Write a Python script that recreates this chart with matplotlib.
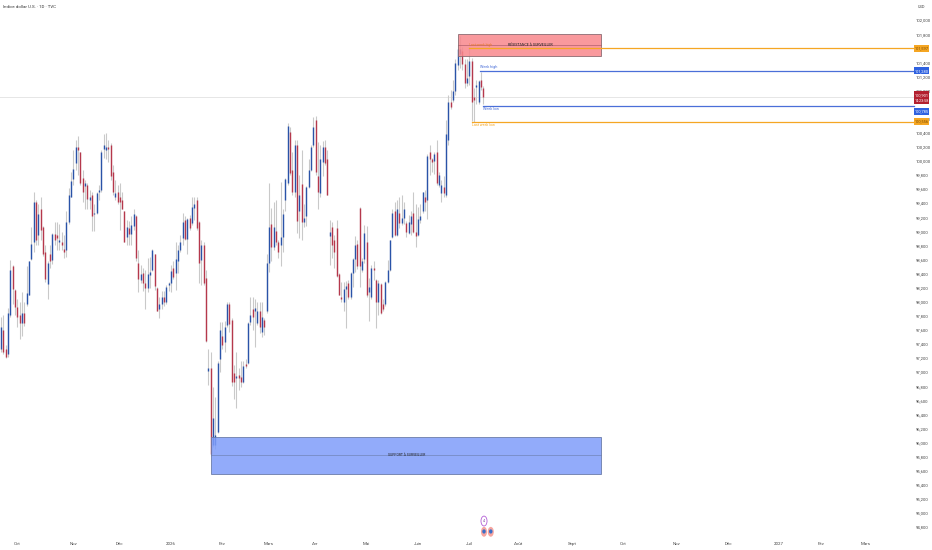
import matplotlib
matplotlib.use('Agg')
import matplotlib.pyplot as plt
from matplotlib.patches import Rectangle, Ellipse
import numpy as np

plt.rcParams['font.family'] = ['Liberation Sans Narrow', 'Roboto', 'DejaVu Sans']

# daily bars, one row = 10 sessions
opens = [97.32, 97.59, 97.32, 97.25, 97.81, 98.50, 98.17, 97.93, 97.81, 97.70,
         97.84, 97.96, 98.10, 98.61, 98.84, 99.41, 98.95, 99.31, 99.06, 98.70,
         98.25, 98.67, 98.59, 98.96, 98.95, 98.84, 98.84, 98.75, 98.74, 99.13,
         99.49, 99.74, 99.97, 100.19, 100.12, 99.76, 99.64, 99.66, 99.45, 99.52,
         99.25, 99.26, 99.56, 99.58, 100.17, 100.16, 100.20, 100.22, 99.84, 99.49,
         99.55, 99.49, 99.45, 99.28, 98.92, 99.04, 98.96, 99.08, 99.22, 98.55,
         98.31, 98.41, 98.27, 98.19, 98.38, 98.45, 98.67, 98.19, 97.89, 97.96,
         98.06, 98.00, 98.24, 98.27, 98.48, 98.41, 98.57, 98.73, 98.90, 99.16,
         98.89, 99.19, 99.12, 99.33, 99.44, 99.13, 98.59, 98.81, 98.34, 97.02,
         97.05, 95.96, 95.97, 96.15, 97.18, 97.51, 97.42, 97.67, 97.97, 97.74,
         96.99, 96.92, 96.96, 96.93, 96.86, 97.12, 97.13, 97.71, 97.90, 97.86,
         97.70, 97.86, 97.57, 97.74, 97.86, 98.55, 99.10, 98.78, 99.00, 98.85,
         98.80, 98.92, 99.45, 99.68, 100.41, 99.87, 99.55, 100.22, 99.28, 99.67,
         99.13, 99.21, 99.63, 99.87, 100.22, 100.58, 99.79, 99.54, 99.99, 100.19,
         100.02, 98.93, 99.06, 98.87, 99.05, 98.39, 98.07, 98.00, 98.18, 98.27,
         98.06, 98.41, 98.61, 98.82, 99.33, 98.45, 98.61, 98.85, 98.13, 98.06,
         98.48, 98.31, 98.00, 98.25, 97.96, 97.96, 98.28, 98.45, 98.92, 99.28,
         98.95, 99.26, 99.12, 99.19, 99.12, 98.97, 99.10, 99.26, 98.99, 98.95,
         99.16, 99.28, 99.48, 99.44, 100.13, 100.03, 100.00, 100.12, 99.66, 99.54,
         99.63, 99.52, 100.29, 100.83, 100.86, 100.99, 101.36, 101.51, 101.56, 101.38,
         101.10, 101.21, 101.42, 100.91, 101.05, 100.83, 101.15, 101.03]
highs = [97.78, 97.81, 97.38, 97.91, 98.59, 98.52, 98.18, 98.03, 97.99, 98.13,
         97.99, 98.50, 98.58, 99.06, 99.55, 99.45, 99.38, 99.48, 99.07, 98.81,
         98.57, 98.80, 98.97, 99.13, 99.13, 99.10, 98.99, 98.95, 99.28, 99.61,
         99.84, 100.16, 100.29, 100.35, 100.12, 99.87, 99.73, 99.68, 99.58, 99.56,
         99.38, 99.55, 99.66, 100.16, 100.38, 100.39, 100.29, 100.25, 99.94, 99.73,
         99.66, 99.68, 99.56, 99.29, 99.16, 99.15, 99.22, 99.32, 99.23, 98.74,
         98.52, 98.48, 98.45, 98.62, 98.64, 98.75, 98.68, 98.21, 98.06, 98.15,
         98.15, 98.24, 98.28, 98.52, 98.57, 98.85, 98.81, 98.95, 99.26, 99.22,
         99.19, 99.23, 99.49, 99.49, 99.48, 99.15, 98.88, 98.84, 98.45, 97.33,
         97.29, 96.78, 96.65, 97.15, 97.71, 97.71, 97.73, 97.99, 97.99, 97.76,
         97.10, 97.28, 97.06, 97.15, 97.15, 97.18, 97.71, 98.07, 98.07, 98.03,
         97.99, 97.99, 97.99, 97.77, 98.67, 99.68, 99.33, 99.42, 99.45, 98.88,
         99.70, 99.31, 99.76, 100.54, 100.48, 100.12, 100.29, 100.29, 99.80, 100.16,
         99.38, 99.64, 100.02, 100.22, 100.62, 100.64, 100.27, 100.23, 100.28, 100.29,
         100.16, 99.16, 99.13, 98.95, 99.16, 98.41, 98.28, 98.28, 98.29, 98.31,
         98.42, 98.62, 98.93, 98.88, 99.35, 98.62, 99.09, 99.07, 98.34, 98.52,
         98.58, 98.32, 98.31, 98.27, 98.03, 98.29, 98.59, 98.88, 99.32, 99.41,
         99.45, 99.48, 99.52, 99.41, 99.15, 99.23, 99.28, 99.55, 99.38, 99.35,
         99.38, 99.56, 99.58, 100.09, 100.22, 100.04, 100.13, 100.29, 99.84, 99.73,
         99.79, 100.58, 100.94, 101.00, 101.15, 101.44, 101.65, 101.77, 101.61, 101.44,
         101.44, 101.61, 101.46, 101.03, 101.15, 101.15, 101.26, 101.06]
lows = [97.29, 97.26, 97.20, 97.22, 97.78, 97.96, 97.81, 97.64, 97.47, 97.51,
        97.66, 97.94, 98.09, 98.59, 98.71, 98.81, 98.80, 98.88, 98.65, 98.28,
        98.04, 98.48, 98.54, 98.81, 98.74, 98.74, 98.74, 98.62, 98.64, 99.10,
        99.48, 99.66, 99.87, 99.80, 99.66, 99.41, 99.31, 99.31, 99.31, 99.00,
        99.00, 99.25, 99.45, 99.56, 100.04, 100.02, 99.99, 99.73, 99.52, 99.45,
        99.38, 99.02, 99.31, 98.84, 98.80, 98.80, 98.80, 99.02, 98.57, 98.13,
        98.27, 98.15, 97.89, 98.13, 98.19, 98.44, 98.17, 97.86, 97.76, 97.89,
        97.94, 97.97, 98.15, 98.13, 98.32, 98.17, 98.41, 98.71, 98.81, 98.87,
        98.67, 99.02, 99.09, 99.16, 99.02, 98.27, 98.24, 98.24, 97.42, 96.82,
        95.81, 95.93, 95.90, 96.13, 97.00, 97.32, 97.29, 97.64, 97.57, 96.80,
        96.61, 96.49, 96.75, 96.78, 96.85, 97.06, 97.12, 97.67, 97.59, 97.36,
        97.67, 97.55, 97.50, 97.53, 97.84, 98.42, 98.57, 98.74, 98.81, 98.62,
        98.50, 98.70, 99.28, 99.66, 99.80, 99.52, 99.49, 98.97, 98.90, 98.88,
        99.06, 99.08, 99.61, 99.86, 100.20, 99.80, 99.31, 99.48, 99.79, 99.94,
        99.51, 98.52, 98.62, 98.48, 98.35, 98.09, 98.00, 97.86, 97.63, 98.03,
        98.04, 98.21, 98.42, 98.47, 98.21, 98.42, 98.55, 98.06, 97.73, 98.03,
        98.31, 97.63, 97.81, 97.83, 97.87, 97.94, 98.27, 98.44, 98.90, 98.93,
        98.93, 99.05, 99.09, 99.10, 98.92, 98.96, 98.95, 98.97, 98.77, 98.93,
        99.12, 99.26, 99.28, 99.18, 99.80, 99.84, 99.81, 99.66, 99.63, 99.41,
        99.48, 99.49, 100.23, 100.73, 100.83, 100.93, 101.29, 101.32, 101.29, 101.03,
        101.06, 101.08, 100.57, 100.55, 100.80, 100.80, 101.00, 100.80]
closes = [97.64, 97.29, 97.22, 97.84, 98.45, 98.18, 97.93, 97.78, 97.70, 97.84,
          97.70, 98.12, 98.57, 98.82, 99.41, 98.87, 99.25, 99.02, 98.67, 98.32,
          98.55, 98.58, 98.96, 98.88, 98.90, 98.88, 98.80, 98.70, 99.13, 99.52,
          99.71, 99.89, 100.20, 100.16, 99.68, 99.55, 99.68, 99.46, 99.48, 99.22,
          99.26, 99.54, 99.58, 100.12, 100.22, 100.19, 100.17, 99.79, 99.55, 99.54,
          99.42, 99.41, 99.32, 98.85, 99.06, 98.96, 99.09, 99.25, 98.62, 98.32,
          98.39, 98.27, 98.19, 98.39, 98.42, 98.74, 98.22, 97.87, 97.96, 98.06,
          98.00, 98.21, 98.27, 98.44, 98.35, 98.61, 98.73, 98.84, 99.13, 98.89,
          99.18, 99.05, 99.35, 99.38, 99.05, 98.55, 98.80, 98.27, 97.44, 97.06,
          95.83, 96.34, 96.10, 97.13, 97.59, 97.38, 97.64, 97.96, 97.68, 96.86,
          96.86, 96.95, 96.92, 96.86, 97.09, 97.09, 97.70, 97.81, 97.78, 97.91,
          97.87, 97.64, 97.78, 97.64, 98.55, 99.06, 98.78, 99.06, 98.85, 98.71,
          98.92, 99.25, 99.74, 100.50, 99.83, 99.55, 100.23, 99.15, 99.51, 99.13,
          99.19, 99.63, 99.87, 100.20, 100.48, 99.84, 99.55, 100.02, 100.19, 99.97,
          99.52, 98.99, 98.80, 98.70, 98.37, 98.10, 98.03, 98.18, 98.22, 98.06,
          98.41, 98.61, 98.80, 98.50, 98.50, 98.58, 98.97, 98.09, 98.21, 98.48,
          98.45, 98.00, 98.27, 97.84, 97.90, 98.28, 98.45, 98.87, 99.26, 98.95,
          99.31, 99.12, 99.19, 99.32, 98.99, 99.13, 99.22, 98.99, 98.93, 99.18,
          99.22, 99.55, 99.42, 100.07, 100.02, 99.99, 100.09, 99.68, 99.80, 99.66,
          99.54, 100.38, 100.83, 100.77, 100.99, 101.39, 101.59, 101.59, 101.38, 101.10,
          101.18, 101.42, 100.84, 100.87, 101.08, 101.13, 101.05, 100.90]

# price axis labels (every 0.2, those behind the tags left out)
y_ticks = [102.0, 101.8, 101.4, 101.2, 101.0, 100.6, 100.4, 100.2, 100.0, 99.8,
           99.6, 99.4, 99.2, 99.0, 98.8, 98.6, 98.4, 98.2, 98.0, 97.8, 97.6, 97.4,
           97.2, 97.0, 96.8, 96.6, 96.4, 96.2, 96.0, 95.8, 95.6, 95.4, 95.2, 95.0, 94.8]
month_labels = ['Oct', 'Nov', 'Déc', '2026', 'Fév', 'Mars', 'Avr', 'Mai', 'Juin',
                'Juil', 'Août', 'Sept', 'Oct', 'Nov', 'Déc', '2027', 'Fév', 'Mars']
month_bars = [7, 31, 51, 73, 95, 115, 135, 157, 179, 201, 222, 245, 267, 290, 312, 334, 352, 371]

week_high, week_low = 101.28, 100.785
last_week_high, last_week_low = 101.597, 100.556
last_price = 100.901
resistance = (101.49, 101.80)
support = (95.55, 96.08)

BLUE = '#2a53a8'
RED = '#b5384c'
ORANGE = '#f5a623'
LINE_BLUE = '#4a6fd8'
WICK = '#c9c9c9'

fig = plt.figure(figsize=(9.32, 5.5), dpi=100)
ax = fig.add_axes([0, 0, 1, 1])

opens, highs, lows, closes = map(np.array, (opens, highs, lows, closes))
idx = np.arange(len(opens))
up = closes >= opens
colors = np.where(up, BLUE, RED)

ax.vlines(idx, lows, highs, color=WICK, lw=0.8, zorder=2)
ax.vlines(idx, np.minimum(opens, closes), np.maximum(opens, closes), color=colors, lw=1.0, zorder=3)

# last price line
ax.plot([-1, 392], [last_price] * 2, color='#e2e2e2', lw=0.6, zorder=1)

# zones
ax.add_patch(Rectangle((196.3, resistance[0]), 61.2, resistance[1] - resistance[0], fc='#f8878c', ec='#8a6a70',
                       alpha=0.85, lw=0.7, zorder=4))
ax.add_patch(Rectangle((90.1, support[0]), 167.4, support[1] - support[0], fc='#7f9dfa', ec='#6a7ba8',
                       alpha=0.85, lw=0.7, zorder=4))
ax.plot([90.1, 257.5], [np.mean(support)] * 2, color='#6a7ba8', lw=0.4, zorder=5)
ax.plot([196.3, 257.5], [np.mean(resistance)] * 2, color='#a05060', lw=0.4, zorder=5)
ax.text(227, np.mean(resistance), 'RÉSISTANCE À SURVEILLER', fontsize=2.6, color='#222222',
        ha='center', va='center', zorder=7)
ax.text(174, np.mean(support), 'SUPPORT À SURVEILLER', fontsize=2.4, color='#222222',
        ha='center', va='center', zorder=7)

# weekly levels
ax.plot([201, 392], [last_week_high] * 2, color=ORANGE, lw=0.9, zorder=6)
ax.plot([205.6, 392], [week_high] * 2, color=LINE_BLUE, lw=0.9, zorder=6)
ax.plot([207, 392], [week_low] * 2, color=LINE_BLUE, lw=0.9, zorder=6)
ax.plot([202, 392], [last_week_low] * 2, color=ORANGE, lw=0.9, zorder=6)
ax.text(201, last_week_high + 0.02, 'Last week high', fontsize=2.5, color='#e8772e', va='bottom', zorder=7)
ax.text(205.6, week_high + 0.02, 'Week high', fontsize=2.7, color=LINE_BLUE, va='bottom', zorder=7)
ax.text(207, week_low - 0.02, 'Week low', fontsize=2.7, color=LINE_BLUE, va='top', zorder=7)
ax.text(202, last_week_low - 0.02, 'Last week low', fontsize=2.6, color=ORANGE, va='top', zorder=7)

# price tags on the right, the lower ones pushed down so they do not collide
tags = [(101.597, 101.597, ORANGE, '#7a4b00', '101,597'),
        (101.28, 101.28, '#2f62e0', 'white', '101,280'),
        (100.785, 100.705, '#2f62e0', 'white', '100,785'),
        (100.556, 100.56, ORANGE, '#7a4b00', '100,556')]
for price, tag_y, col, tcol, label in tags:
    ax.add_patch(Rectangle((391.8, tag_y - 0.05), 6.5, 0.1, fc=col, ec='none', zorder=8))
    ax.text(395.05, tag_y, label, fontsize=2.9, color=tcol, ha='center', va='center', zorder=9)
ax.add_patch(Rectangle((391.8, 100.80), 6.5, 0.185, fc='#b3202f', ec='none', zorder=8))
ax.text(395.05, last_price + 0.03, '100,901', fontsize=2.9, color='white', ha='center', va='center', zorder=9)
ax.text(395.05, 100.845, '14:23:58', fontsize=2.7, color='white', ha='center', va='center', zorder=9)

# event markers on the time scale
ax.add_patch(Ellipse((207.3, 94.883), 2.6, 0.14, fc='white', ec='#b45fd6', lw=0.6, zorder=5))
ax.text(207.3, 94.883, '4', fontsize=2.6, color='#7b3fa0', ha='center', va='center', zorder=6)
for x in (207.3, 210.2):
    ax.add_patch(Ellipse((x, 94.73), 2.6, 0.14, fc='#f6a5a0', ec='none', zorder=5))
    ax.add_patch(Ellipse((x, 94.735), 1.5, 0.06, fc='#3a6fc8', ec='none', zorder=6))

ax.text(0.9, 102.19, 'Indice dollar U.S. · 1D · TVC', fontsize=3.2, color='#333333', ha='left', va='center')
ax.text(395.2, 102.19, 'USD', fontsize=2.9, color='#444444', ha='center', va='center')

# 1 bar = 2.33 px, bar 0 sits at x = 1 px
ax.set_xlim(-1 / 2.33, 931 / 2.33)
# 102.0 sits 20 px from the top, 0.2 = 14.08 px
ax.set_ylim(102 - 530 / 70.4, 102 + 20 / 70.4)
ax.set_yticks(y_ticks)
ax.set_yticklabels([f'{t:.3f}'.replace('.', ',') for t in y_ticks])
ax.yaxis.tick_right()
ax.tick_params(axis='y', length=0, pad=-11.5, labelsize=3.0, labelcolor='#444444')
ax.set_xticks(month_bars)
ax.set_xticklabels(month_labels)
ax.tick_params(axis='x', length=0, pad=-6, labelsize=3.2, labelcolor='#444444')
for s in ax.spines.values():
    s.set_visible(False)

fig.savefig('out.png', dpi=100)
